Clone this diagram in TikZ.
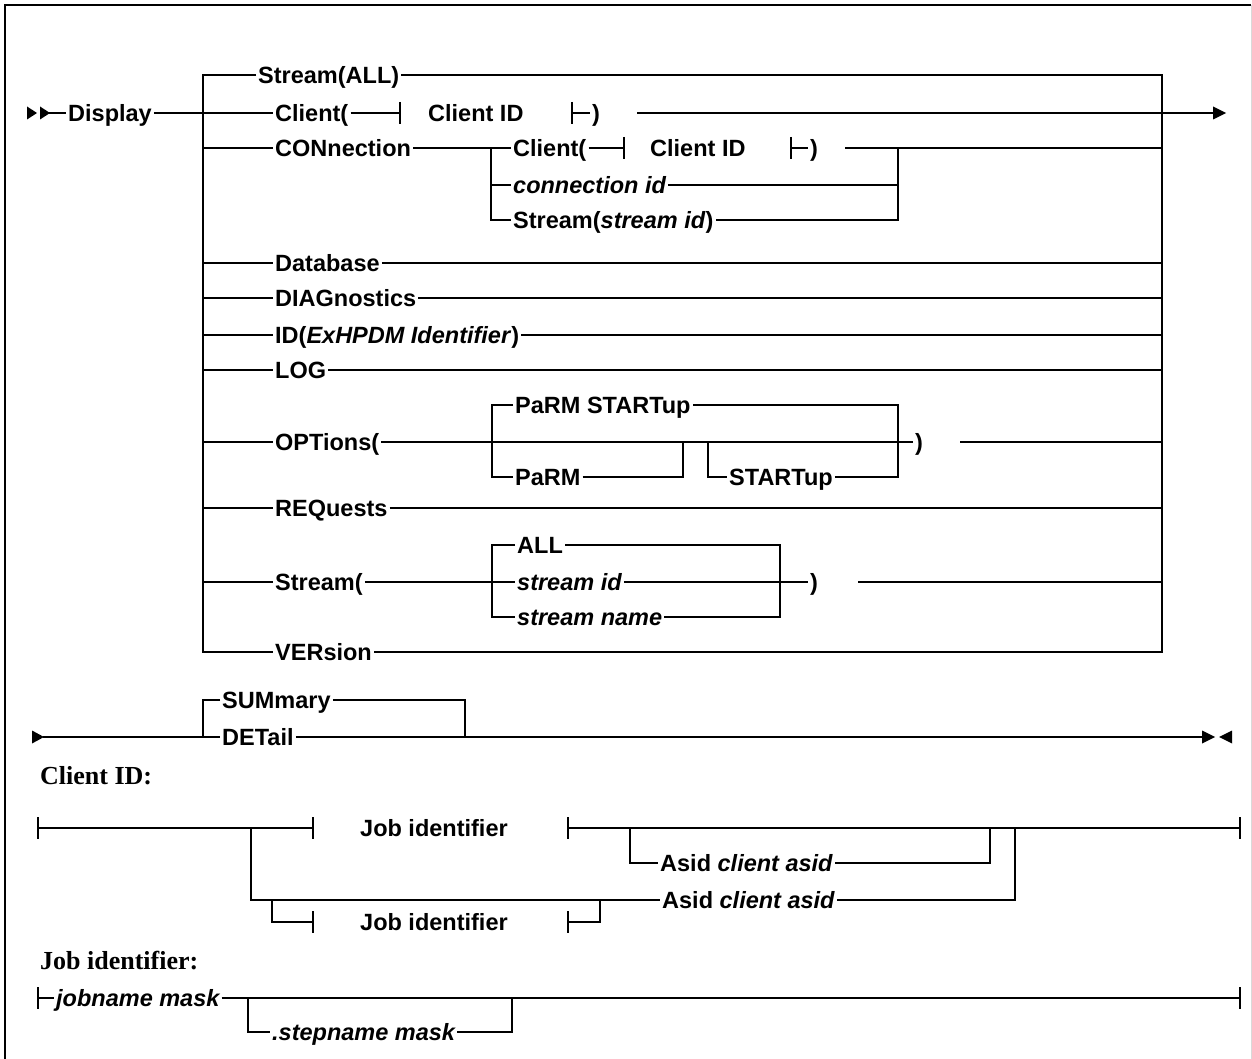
\documentclass[tikz,border=0pt]{standalone}
\usepackage{fontspec}
\setmainfont{Liberation Sans}
\newfontfamily\headfont{Liberation Serif}
\begin{document}
\begin{tikzpicture}[x=1pt,y=-1pt,
  kw/.style={anchor=west, inner xsep=2pt, inner ysep=0pt, text height=17pt, text depth=0pt,
    font=\fontsize{23.5}{28}\selectfont\bfseries},
  var/.style={kw, font=\fontsize{23.5}{28}\selectfont\bfseries\itshape},
  head/.style={anchor=base west, inner sep=0pt, font=\headfont\fontsize{26}{30}\selectfont\bfseries},
  rail/.style={line width=2pt, line join=miter},
  tipfill/.style={fill=black}]
\useasboundingbox (0,0) rectangle (1252,1059);
% frame
\draw[line width=2.4pt] (5,1059) -- (5,5) -- (1251,5);
\draw[black!15, line width=1pt] (1251,5) -- (1251,1059);

% ---------------- main command ----------------
\fill[tipfill] (27,106.5) -- (37,113) -- (27,119.5) -- cycle;
\fill[tipfill] (40,106.5) -- (50,113) -- (40,119.5) -- cycle;
\coordinate (s0) at (49,113);
\node[kw] (display) at (66,113) {Display};
\draw[rail] (s0) -- (display.west);

\coordinate (lb1) at (203,75);  \coordinate (lb2) at (203,652);
\coordinate (rb1) at (1162,75); \coordinate (rb2) at (1162,652);

\node[kw] (sall) at (256,75) {Stream(ALL)};
\node[kw] (ver) at (273,652) {VERsion};
\draw[rail] (sall.west) -- (lb1) -- (lb2) -- (ver.west);
\draw[rail] (sall.east) -- (rb1) -- (rb2) -- (ver.east);

% Client( Client ID )
\node[kw] (cl) at (273,113) {Client(};
\draw[rail] (display.east) -- (cl.west);
\coordinate (t1) at (400,113);
\draw[rail] (cl.east) -- (t1);
\draw[rail] (t1) ++(0,-11) -- ++(0,22);
\node[kw] (cid1) at (426,113) {Client ID};
\coordinate (t2) at (572,113);
\draw[rail] (t2) ++(0,-11) -- ++(0,22);
\node[kw] (p1) at (590,113) {)};
\draw[rail] (t2) -- (p1.west);
\coordinate (c1) at (637,113);
\coordinate (e1) at (1215,113);
\draw[rail] (c1) -- (e1);
\fill[tipfill] (1213,106.5) -- (1226,113) -- (1213,119.5) -- cycle;

% CONnection
\node[kw] (conn) at (273,148) {CONnection};
\draw[rail] (lb1 |- conn) -- (conn.west);
\coordinate (cb1) at (491,148); \coordinate (cb2) at (491,220);
\coordinate (cr1) at (898,148); \coordinate (cr2) at (898,220);
\node[kw] (ccl) at (511,148) {Client(};
\node[var] (connid) at (511,185) {connection id};
\node[kw] (cstr) at (511,220) {Stream(\textit{stream id})};
\draw[rail] (conn.east) -- (ccl.west);
\draw[rail] (cb1) -- (cb2) -- (cstr.west);
\draw[rail] (cb1 |- connid) -- (connid.west);
\coordinate (t3) at (624,148);
\draw[rail] (ccl.east) -- (t3);
\draw[rail] (t3) ++(0,-11) -- ++(0,22);
\node[kw] (cid2) at (648,148) {Client ID};
\coordinate (t4) at (791,148);
\draw[rail] (t4) ++(0,-11) -- ++(0,22);
\node[kw] (p2) at (808,148) {)};
\draw[rail] (t4) -- (p2.west);
\coordinate (c2) at (845,148);
\draw[rail] (c2) -- (rb1 |- c2);
\draw[rail] (cr1) -- (cr2) -- (cstr.east);
\draw[rail] (connid.east) -- (cr1 |- connid);

% simple keywords
\foreach \nm/\txt/\yy in {db/Database/263, diag/DIAGnostics/298, log/LOG/370, req/REQuests/508}{
  \node[kw] (\nm) at (273,\yy) {\txt};
  \draw[rail] (lb1 |- \nm) -- (\nm.west);
  \draw[rail] (\nm.east) -- (rb1 |- \nm);
}
\node[kw] (idn) at (273,335) {ID(\textit{ExHPDM Identifier})};
\draw[rail] (lb1 |- idn) -- (idn.west);
\draw[rail] (idn.east) -- (rb1 |- idn);

% OPTions(
\node[kw] (opt) at (273,442) {OPTions(};
\node[kw] (pst) at (513,405) {PaRM STARTup};
\node[kw] (parm) at (513,477) {PaRM};
\node[kw] (stu) at (727,477) {STARTup};
\node[kw] (op) at (913,442) {)};
\draw[rail] (lb1 |- opt) -- (opt.west);
\draw[rail] (opt.east) -- (op.west);
\coordinate (ob1) at (492,405); \coordinate (ob2) at (492,477);
\draw[rail] (pst.west) -- (ob1) -- (ob2) -- (parm.west);
\coordinate (pb1) at (683,477); \coordinate (pb2) at (683,442);
\draw[rail] (parm.east) -- (pb1) -- (pb2);
\coordinate (sb1) at (708,442); \coordinate (sb2) at (708,477);
\draw[rail] (sb1) -- (sb2) -- (stu.west);
\coordinate (orb1) at (898,477); \coordinate (orb2) at (898,405);
\draw[rail] (stu.east) -- (orb1) -- (orb2) -- (pst.east);
\coordinate (c3) at (960,442);
\draw[rail] (c3) -- (rb1 |- c3);

% Stream(
\node[kw] (str) at (273,582) {Stream(};
\node[kw] (sa) at (515,545) {ALL};
\node[var] (sid) at (515,582) {stream id};
\node[var] (snm) at (515,617) {stream name};
\node[kw] (sp) at (808,582) {)};
\draw[rail] (lb1 |- str) -- (str.west);
\draw[rail] (str.east) -- (sid.west);
\coordinate (stb1) at (492,545); \coordinate (stb2) at (492,617);
\draw[rail] (sa.west) -- (stb1) -- (stb2) -- (snm.west);
\coordinate (str1) at (780,545); \coordinate (str2) at (780,617);
\draw[rail] (sa.east) -- (str1) -- (str2) -- (snm.east);
\draw[rail] (sid.east) -- (sp.west);
\coordinate (c4) at (858,582);
\draw[rail] (c4) -- (rb1 |- c4);

% ---------------- SUMmary / DETail ----------------
\fill[tipfill] (32,730.5) -- (44,737) -- (32,743.5) -- cycle;
\coordinate (s1) at (43,737);
\node[kw] (sum) at (220,700) {SUMmary};
\node[kw] (det) at (220,737) {DETail};
\coordinate (db1) at (203,700); \coordinate (db2) at (203,737);
\draw[rail] (s1) -- (det.west);
\draw[rail] (sum.west) -- (db1) -- (db2);
\coordinate (dr1) at (465,700); \coordinate (dr2) at (465,737);
\draw[rail] (sum.east) -- (dr1) -- (dr2);
\coordinate (e2) at (1204,737);
\draw[rail] (det.east) -- (e2);
\fill[tipfill] (1202,730.5) -- (1215,737) -- (1202,743.5) -- cycle;
\fill[tipfill] (1232,730.5) -- (1219,737) -- (1232,743.5) -- cycle;

% ---------------- Client ID fragment ----------------
\node[head] (h1) at (40,784) {Client ID:};
\coordinate (k0) at (38,828);
\draw[rail] (k0) ++(0,-11) -- ++(0,22);
\coordinate (k1) at (313,828);
\draw[rail] (k0) -- (k1);
\draw[rail] (k1) ++(0,-11) -- ++(0,22);
\node[kw] (ji1) at (358,828) {Job identifier};
\coordinate (k2) at (568,828);
\draw[rail] (k2) ++(0,-11) -- ++(0,22);
\coordinate (k3) at (1240,828);
\draw[rail] (k2) -- (k3);
\draw[rail] (k3) ++(0,-11) -- ++(0,22);
\node[kw] (as1) at (658,863) {Asid \textit{client asid}};
\coordinate (ab1) at (630,828); \coordinate (ab2) at (630,863);
\draw[rail] (ab1) -- (ab2) -- (as1.west);
\coordinate (ar1) at (990,863); \coordinate (ar2) at (990,828);
\draw[rail] (as1.east) -- (ar1) -- (ar2);
\node[kw] (as2) at (660,900) {Asid \textit{client asid}};
\coordinate (bb1) at (251,828); \coordinate (bb2) at (251,900);
\draw[rail] (bb1) -- (bb2) -- (as2.west);
\coordinate (br1) at (1015,900); \coordinate (br2) at (1015,828);
\draw[rail] (as2.east) -- (br1) -- (br2);
\coordinate (lb3) at (272,900); \coordinate (lb4) at (272,922);
\coordinate (k4) at (313,922);
\draw[rail] (lb3) -- (lb4) -- (k4);
\draw[rail] (k4) ++(0,-11) -- ++(0,22);
\node[kw] (ji2) at (358,922) {Job identifier};
\coordinate (k5) at (568,922);
\draw[rail] (k5) ++(0,-11) -- ++(0,22);
\coordinate (lr1) at (600,922); \coordinate (lr2) at (600,900);
\draw[rail] (k5) -- (lr1) -- (lr2);

% ---------------- Job identifier fragment ----------------
\node[head] (h2) at (40,969) {Job identifier:};
\coordinate (j0) at (38,998);
\draw[rail] (j0) ++(0,-11) -- ++(0,22);
\node[var] (jm) at (54,998) {jobname mask};
\draw[rail] (j0) -- (jm.west);
\coordinate (j1) at (1240,998);
\draw[rail] (jm.east) -- (j1);
\draw[rail] (j1) ++(0,-11) -- ++(0,22);
\node[var] (sm) at (270,1032) {.stepname mask};
\coordinate (jb1) at (248,998); \coordinate (jb2) at (248,1032);
\draw[rail] (jb1) -- (jb2) -- (sm.west);
\coordinate (jr1) at (512,1032); \coordinate (jr2) at (512,998);
\draw[rail] (sm.east) -- (jr1) -- (jr2);
\end{tikzpicture}
\end{document}
